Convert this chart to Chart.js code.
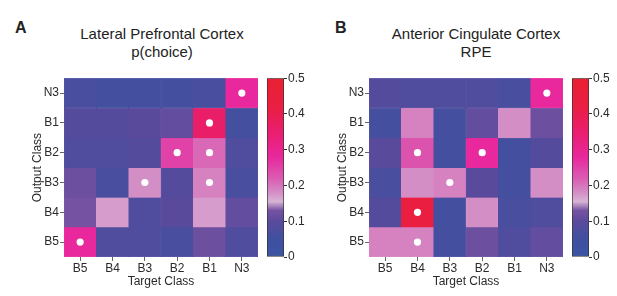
<!DOCTYPE html>
<html>
<head>
<meta charset="utf-8">
<script src="https://cdn.jsdelivr.net/npm/chart.js@4.4.1/dist/chart.umd.min.js"></script>
<style>
body{margin:0;background:#fff;width:617px;height:296px;position:relative;overflow:hidden;font-family:"Liberation Sans",Arial,sans-serif;color:#222}
.box{position:absolute}
.letter{position:absolute;font-weight:bold;font-size:16px;line-height:16px;top:20px}
.title{position:absolute;font-size:15px;line-height:18px;text-align:center;top:25px;width:240px}
</style>
</head>
<body>
<div class="letter" style="left:15px">A</div>
<div class="title" style="left:42px">Lateral Prefrontal Cortex<br>p(choice)</div>
<div class="letter" style="left:335px">B</div>
<div class="title" style="left:356px">Anterior Cingulate Cortex<br>RPE</div>

<div class="box" style="left:0px;top:70px;width:262px;height:226px"><canvas id="heatA"></canvas></div>
<div class="box" style="left:262px;top:70px;width:50px;height:226px"><canvas id="barA"></canvas></div>
<div class="box" style="left:305px;top:70px;width:262px;height:226px"><canvas id="heatB"></canvas></div>
<div class="box" style="left:567px;top:70px;width:50px;height:226px"><canvas id="barB"></canvas></div>

<script>
"use strict";

// columns (left to right) and rows (top to bottom)
const targetClasses = ["B5","B4","B3","B2","B1","N3"];
const outputClasses = ["N3","B1","B2","B3","B4","B5"];

// LPFC p(choice), one row per output class
const pfcValues = [
    [0.07, 0.06, 0.06, 0.06, 0.07, 0.28],
    [0.09, 0.09, 0.10, 0.11, 0.36, 0.06],
    [0.08, 0.08, 0.09, 0.25, 0.21, 0.08],
    [0.12, 0.07, 0.18, 0.09, 0.19, 0.07],
    [0.13, 0.17, 0.08, 0.10, 0.17, 0.11],
    [0.28, 0.08, 0.08, 0.07, 0.12, 0.08]
];
// ACC RPE
const accValues = [
    [0.09, 0.08, 0.08, 0.08, 0.07, 0.28],
    [0.06, 0.19, 0.06, 0.11, 0.18, 0.12],
    [0.10, 0.23, 0.06, 0.28, 0.06, 0.09],
    [0.07, 0.18, 0.19, 0.10, 0.06, 0.18],
    [0.09, 0.43, 0.06, 0.18, 0.07, 0.08],
    [0.19, 0.19, 0.06, 0.12, 0.08, 0.11]
];
// significant cells: [output class, target class]
const pfcMarks = [["N3","N3"],["B1","B1"],["B2","B2"],["B2","B1"],["B3","B3"],["B3","B1"],["B5","B5"]];
const accMarks = [["N3","N3"],["B2","B4"],["B2","B2"],["B3","B3"],["B4","B4"],["B5","B4"]];

const colorTicks = [0, 0.1, 0.2, 0.3, 0.4, 0.5];

// colormap stops (value, rgb)
const cmap = [
    [0.00, [58, 84, 164]],
    [0.05, [64, 80, 160]],
    [0.10, [90, 74, 156]],
    [0.13, [118, 82, 162]],
    [0.155, [216, 180, 212]],
    [0.18, [212, 142, 198]],
    [0.22, [218, 92, 178]],
    [0.28, [232, 40, 156]],
    [0.35, [234, 30, 110]],
    [0.42, [234, 30, 66]],
    [0.50, [234, 32, 50]]
];

function colorOf(v){
    for (let i = 1; i < cmap.length; i++){
        if (v <= cmap[i][0]){
            const t = (v - cmap[i-1][0]) / (cmap[i][0] - cmap[i-1][0]);
            const a = cmap[i-1][1], b = cmap[i][1];
            return "rgb(" + a.map((c,k) => Math.round(c + (b[k]-c)*t)).join(",") + ")";
        }
    }
    return "rgb(" + cmap[cmap.length-1][1].join(",") + ")";
}

const FONT = "'Liberation Sans', Arial, sans-serif";
const TXT = "#2a2a2a";
const nRows = outputClasses.length;

function rowBottom(name){
    return nRows - 1 - outputClasses.indexOf(name);
}

function makeHeatmap(id, values, marks){
    const datasets = [{
        type: "scatter",
        data: marks.map(m => ({x: m[1], y: rowBottom(m[0]) + 0.5})),
        backgroundColor: "#fff",
        borderWidth: 0,
        pointRadius: 3.6,
        order: 0
    }];
    outputClasses.forEach((row, i) => {
        const y0 = rowBottom(row);
        const cols = values[i].map(colorOf);
        datasets.push({
            type: "bar",
            data: values[i].map(() => [y0, y0 + 1]),
            backgroundColor: cols,
            borderColor: cols,
            borderWidth: 0.5,
            borderSkipped: false,
            grouped: false,
            barPercentage: 1,
            categoryPercentage: 1,
            order: 1
        });
    });

    new Chart(document.getElementById(id), {
        type: "bar",
        data: {labels: targetClasses, datasets: datasets},
        options: {
            responsive: true,
            maintainAspectRatio: false,
            animation: false,
            layout: {padding: {top: 4, right: 2, left: 0, bottom: 0}},
            plugins: {legend: {display: false}, tooltip: {enabled: false}},
            scales: {
                x: {
                    type: "category",
                    offset: true,
                    grid: {offset: false, drawOnChartArea: false, tickLength: 4, color: "#666"},
                    border: {display: false},
                    ticks: {color: TXT, font: {family: FONT, size: 12}, padding: 0, maxRotation: 0},
                    title: {display: true, text: "Target Class", color: TXT,
                            font: {family: FONT, size: 12}, padding: {top: 0, bottom: 7}},
                    afterFit: s => { s.height = 39; }
                },
                y: {
                    type: "linear",
                    min: 0, max: nRows,
                    afterBuildTicks: s => {
                        s.ticks = outputClasses.map(c => ({value: rowBottom(c) + 0.5}));
                    },
                    grid: {drawOnChartArea: false, tickLength: 4, color: "#666"},
                    border: {display: false},
                    ticks: {
                        color: TXT, font: {family: FONT, size: 12}, padding: 1,
                        callback: v => outputClasses[nRows - 1 - Math.floor(v)]
                    },
                    title: {display: true, text: "Output Class", color: TXT,
                            font: {family: FONT, size: 12}, padding: {top: 30, bottom: 0}},
                    afterFit: s => { s.width = 64; }
                }
            }
        }
    });
}

function makeColorbar(id){
    const top = colorTicks[colorTicks.length - 1];
    new Chart(document.getElementById(id), {
        type: "bar",
        data: {
            labels: [""],
            datasets: [{
                data: [top],
                backgroundColor: ctx => {
                    const ch = ctx.chart;
                    if (!ch.chartArea) return colorOf(0);
                    const y = ch.scales.y;
                    const g = ch.ctx.createLinearGradient(0, y.getPixelForValue(0), 0, y.getPixelForValue(top));
                    cmap.forEach(s => g.addColorStop(s[0] / top, "rgb(" + s[1].join(",") + ")"));
                    return g;
                },
                borderColor: "#333",
                borderWidth: 1,
                borderSkipped: false,
                barPercentage: 1,
                categoryPercentage: 1
            }]
        },
        options: {
            responsive: true,
            maintainAspectRatio: false,
            animation: false,
            layout: {padding: {top: 4, left: 5, right: 0, bottom: 39}},
            plugins: {legend: {display: false}, tooltip: {enabled: false}},
            scales: {
                x: {display: false},
                y: {
                    position: "right",
                    min: 0, max: top,
                    afterBuildTicks: s => { s.ticks = colorTicks.map(v => ({value: v})); },
                    grid: {drawOnChartArea: false, tickLength: 3, color: "#333"},
                    border: {display: false},
                    ticks: {color: TXT, font: {family: FONT, size: 12}, padding: 1},
                    afterFit: s => { s.width = 28; }
                }
            }
        }
    });
}

makeHeatmap("heatA", pfcValues, pfcMarks);
makeColorbar("barA");
makeHeatmap("heatB", accValues, accMarks);
makeColorbar("barB");
</script>
</body>
</html>
